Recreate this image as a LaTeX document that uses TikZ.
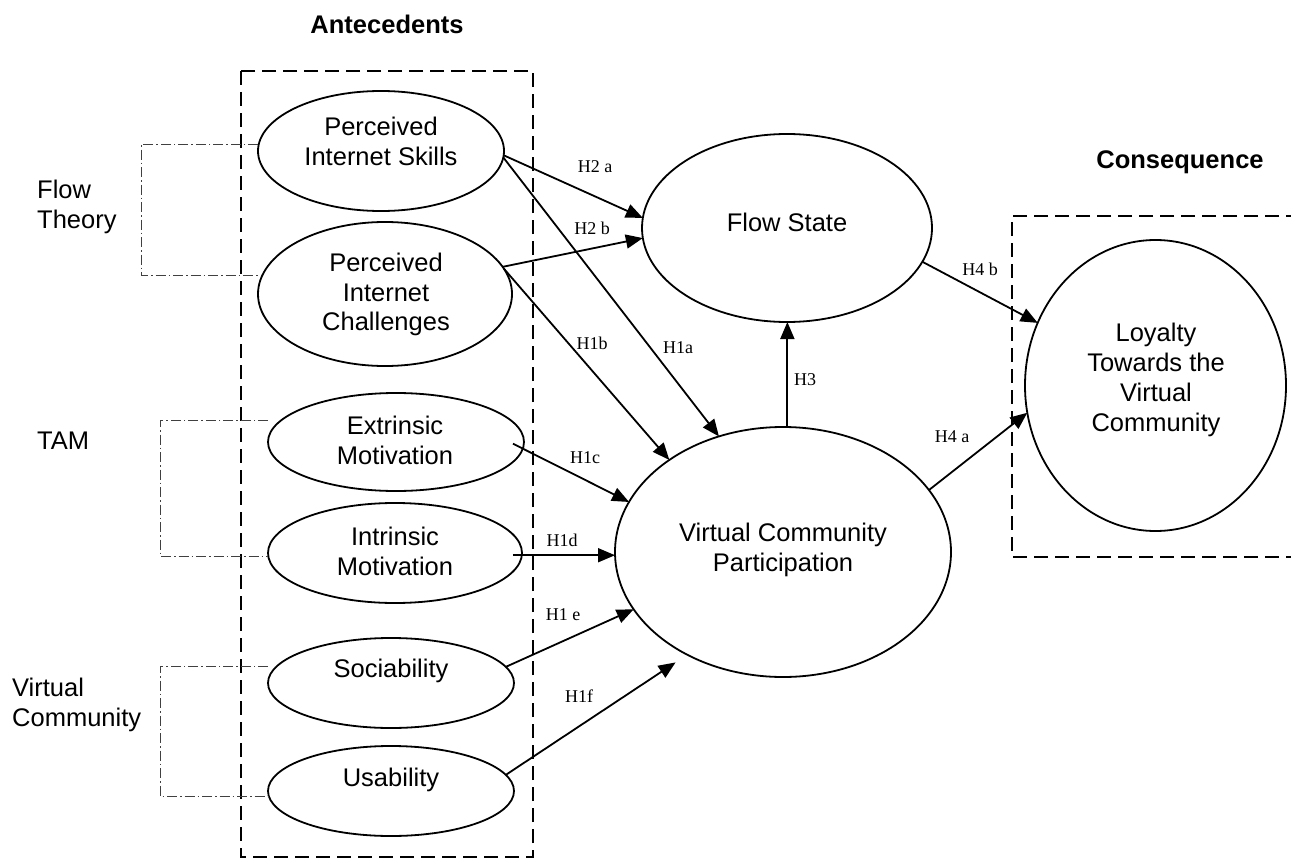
\documentclass[tikz,border=0pt]{standalone}
\usepackage{fontspec}
\setmainfont{Liberation Sans}
\newfontfamily\labfont{Liberation Serif}
\usetikzlibrary{shapes.geometric,arrows.meta,calc}
\begin{document}
\begin{tikzpicture}[x=1pt,y=-1pt,
  ell/.style={ellipse, draw, line width=1.8pt, inner sep=0pt, outer sep=0pt},
  txt/.style={font=\fontsize{25.5}{29.5}\selectfont, align=center, inner sep=0pt, anchor=north},
  side/.style={font=\fontsize{25.5}{29.5}\selectfont, align=left, inner sep=0pt, anchor=north west},
  hd/.style={font=\bfseries\fontsize{25.5}{29.5}\selectfont, inner sep=0pt, anchor=north},
  lab/.style={font=\labfont\fontsize{18}{20}\selectfont, inner sep=0pt},
  arr/.style={line width=1.8pt, -{Triangle[length=17pt,width=14pt]}},
  brk/.style={line width=1pt, black!75, dash pattern=on 10pt off 3pt on 1.5pt off 3pt},
  dbox/.style={line width=1.8pt, dash pattern=on 14pt off 7pt}]
\useasboundingbox (0,0) rectangle (1291,859);

% boxes
\draw[dbox] (241,71) rectangle (533,857);
\draw[dbox] (1300,216) -- (1012,216) -- (1012,557) -- (1300,557);

% ellipses
\node[ell, minimum width=246pt, minimum height=120pt] (pis) at (381,151) {};
\node[ell, minimum width=254pt, minimum height=144pt] (pic) at (385,294) {};
\node[ell, minimum width=256pt, minimum height=98pt] (ext) at (396,442) {};
\node[ell, minimum width=254pt, minimum height=100pt] (int) at (395,553) {};
\node[ell, minimum width=246pt, minimum height=90pt] (soc) at (391,683) {};
\node[ell, minimum width=246pt, minimum height=90pt] (usa) at (391,791) {};
\node[ell, minimum width=290pt, minimum height=188pt] (flow) at (787,228) {};
\node[ell, minimum width=336pt, minimum height=250pt] (vcp) at (783,552) {};
\node[ell, minimum width=261pt, minimum height=291pt] (loy) at (1155.5,385.5) {};

% ellipse texts
\node[txt] (pist) at (381,117) {Perceived\\Internet Skills};
\node[txt] (pict) at (386,253) {Perceived\\Internet\\Challenges};
\node[txt] (extt) at (395,416) {Extrinsic\\Motivation};
\node[txt] (intt) at (395,527) {Intrinsic\\Motivation};
\node[txt] (soct) at (391,659) {Sociability};
\node[txt] (usat) at (391,768) {Usability};
\node[txt] (flowt) at (787,213) {Flow State};
\node[txt] (vcpt) at (783,523) {Virtual Community\\Participation};
\node[txt, font=\fontsize{25.5}{30}\selectfont] (loyt) at (1156,323) {Loyalty\\Towards the\\Virtual\\Community};

% headings and side labels
\node[hd] (ante) at (387,15) {Antecedents};
\node[hd] (cons) at (1180,150) {Consequence};
\node[side] (ft) at (37,180) {Flow\\Theory};
\node[side] (tam) at (37,432) {TAM};
\node[side] (vc) at (12,678) {Virtual\\Community};

% brackets
\draw[brk] ([yshift=7pt]pis.west) -- ++(-117,0) |- ([yshift=19pt]pic.west);
\draw[brk] ([yshift=22pt]ext.west) -- ++(-108,0) |- ([yshift=-3pt]int.west);
\draw[brk] ([yshift=17pt]soc.west) -- ++(-108,0) |- ([yshift=-5pt]usa.west);

% arrows
\draw[arr] (pis.-2) -- (flow.176);
\draw[arr] (pic.13) -- (flow.184);
\draw[arr] (pis.-3) -- (vcp.119);
\draw[arr] (pic.12) -- (vcp.141);
\draw[arr, shorten <=-11pt] (ext.-3) -- (vcp.162);
\draw[arr, shorten <=-9pt] (int.-1) -- (int.-1 -| vcp.west);
\draw[arr] (soc.8) -- (vcp.201);
\draw[arr, shorten >=14pt] (usa.8) -- (vcp.227);
\draw[arr] (vcp.88) -- (vcp.88 |- flow.south);
\draw[arr] (vcp.23) -- (loy.192);
\draw[arr] (flow.-14) -- (loy.152);

% arrow labels
\node[lab] (l2a) at (595,167) {H2 a};
\node[lab] (l2b) at (592,228) {H2 b};
\node[lab] (l1b) at (592,343) {H1b};
\node[lab] (l1a) at (678,348) {H1a};
\node[lab] (l1c) at (585,458) {H1c};
\node[lab] (l1d) at (562,540) {H1d};
\node[lab] (l1e) at (563,615) {H1 e};
\node[lab] (l1f) at (579,696) {H1f};
\node[lab] (l3) at (805,380) {H3};
\node[lab] (l4a) at (952,437) {H4 a};
\node[lab] (l4b) at (980,269) {H4 b};
\end{tikzpicture}
\end{document}
